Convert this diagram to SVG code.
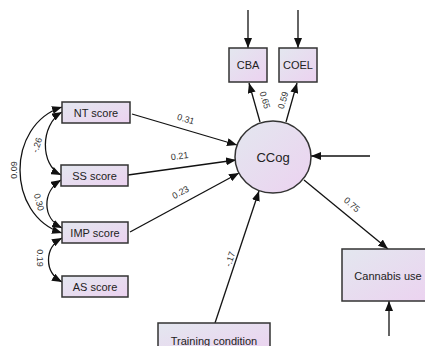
<svg xmlns="http://www.w3.org/2000/svg" width="425" height="346" viewBox="0 0 425 346">
<defs>
<linearGradient id="g" x1="0" y1="0" x2="1" y2="1">
<stop offset="0" stop-color="#e3e7ef"/>
<stop offset="1" stop-color="#ecd2f0"/>
</linearGradient>
<marker id="a" viewBox="0 0 10 8" refX="10" refY="4" markerWidth="10" markerHeight="8" markerUnits="userSpaceOnUse" orient="auto-start-reverse">
<path d="M0,0 L10,4 L0,8 Z" fill="#111"/>
</marker>
<style>
.n{fill:url(#g);stroke:#333;stroke-width:1.5}
.t{font-family:"Liberation Sans",Arial,sans-serif;font-size:11px;fill:#222;text-anchor:middle}
.l{font-family:"Liberation Sans",Arial,sans-serif;font-size:9px;fill:#333;text-anchor:middle}
.c{fill:none;stroke:#111;stroke-width:1.3}
</style>
</defs>
<g id="connectors">
<path class="c" d="M132,114 L237,145" marker-end="url(#a)"/>
<path class="c" d="M128,175 L236,160" marker-end="url(#a)"/>
<path class="c" d="M130,232 L239,173" marker-end="url(#a)"/>
<path class="c" d="M215,323 L259,191" marker-end="url(#a)"/>
<path class="c" d="M370,156 L311,156" marker-end="url(#a)"/>
<path class="c" d="M260,122 L249,83" marker-end="url(#a)"/>
<path class="c" d="M286,122 L297,83" marker-end="url(#a)"/>
<path class="c" d="M248,10 L248,48" marker-end="url(#a)"/>
<path class="c" d="M298,10 L298,48" marker-end="url(#a)"/>
<path class="c" d="M304,180 L388,249" marker-end="url(#a)"/>
<path class="c" d="M389,336 L389,301" marker-end="url(#a)"/>
<path class="c" d="M62,112 C40,125 40,165 61,175" marker-start="url(#a)" marker-end="url(#a)"/>
<path class="c" d="M61,180 C42,192 42,218 62,228" marker-start="url(#a)" marker-end="url(#a)"/>
<path class="c" d="M62,107 C6,125 6,215 62,233" marker-start="url(#a)" marker-end="url(#a)"/>
<path class="c" d="M62,238 C44,248 44,272 62,282" marker-start="url(#a)" marker-end="url(#a)"/>
<text class="l" transform="translate(185,122) rotate(16.4)">0.31</text>
<text class="l" transform="translate(180,159) rotate(-7.8)">0.21</text>
<text class="l" transform="translate(182,195) rotate(-28.6)">0.23</text>
<text class="l" transform="translate(350,207) rotate(40)">0.75</text>
<text class="l" transform="translate(233,260) rotate(-71.7)">-.17</text>
<text class="l" transform="translate(262,101) rotate(73.4)">0.65</text>
<text class="l" transform="translate(286,101) rotate(-73.4)">0.59</text>
<text class="l" transform="translate(40,146) rotate(-72)">-.26</text>
<text class="l" transform="translate(17,170) rotate(-90)">0.09</text>
<text class="l" transform="translate(36,203) rotate(75)">0.30</text>
<text class="l" transform="translate(37,258) rotate(90)">0.19</text>
</g>
<g id="NT"><rect class="n" x="62" y="102" width="68" height="21"/><text class="t" x="96" y="116.5">NT score</text></g>
<g id="SS"><rect class="n" x="61" y="165" width="67" height="21"/><text class="t" x="94.5" y="179.5">SS score</text></g>
<g id="IMP"><rect class="n" x="62" y="222" width="66" height="21"/><text class="t" x="95" y="236.5">IMP score</text></g>
<g id="AS"><rect class="n" x="62" y="276" width="66" height="21"/><text class="t" x="95" y="290.5">AS score</text></g>
<g id="CBA"><rect class="n" x="229" y="48" width="38" height="34"/><text class="t" x="248" y="69">CBA</text></g>
<g id="COEL"><rect class="n" x="279" y="48" width="38" height="34"/><text class="t" x="298" y="69">COEL</text></g>
<g id="CCog"><ellipse class="n" cx="273" cy="157" rx="38" ry="36"/><text class="t" x="273" y="162" style="font-size:13px">CCog</text></g>
<g id="Cannabis"><rect class="n" x="342" y="249" width="92" height="52"/><text class="t" x="388" y="280">Cannabis use</text></g>
<g id="Training"><rect class="n" x="158" y="323" width="112" height="30"/><text class="t" x="214" y="345">Training condition</text></g>
</svg>
